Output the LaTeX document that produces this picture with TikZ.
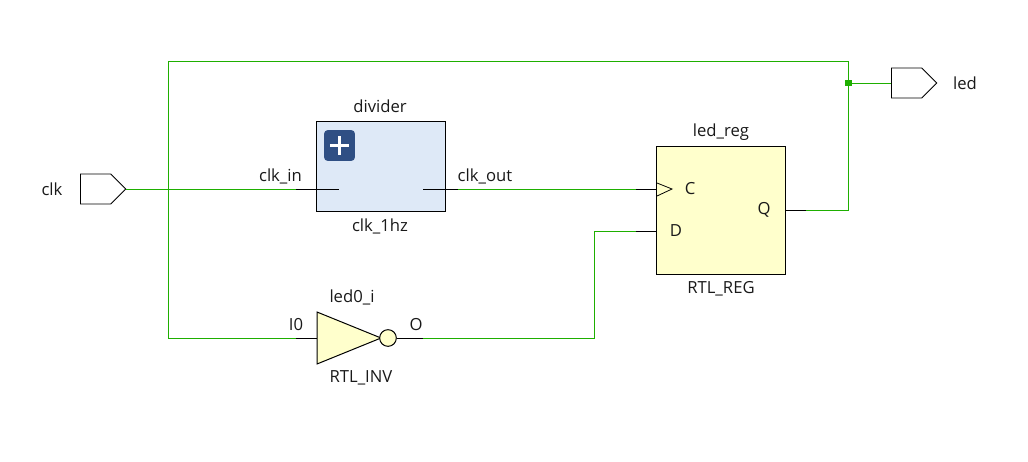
\documentclass[tikz,border=0pt]{standalone}
\usepackage{fontspec}
\setmainfont{Open Sans}
\usetikzlibrary{positioning, shapes.geometric, shapes.symbols}
\definecolor{netgreen}{RGB}{30,175,0}
\definecolor{hierblue}{RGB}{222,233,247}
\definecolor{primyellow}{RGB}{255,255,204}
\definecolor{plusblue}{RGB}{47,79,132}

\begin{document}
\begin{tikzpicture}
    [
        x=0.75pt, y=-0.75pt,
        font=\fontsize{12.5pt}{14pt}\selectfont,
        line width=0.75pt,
        node distance=2pt,
        port/.style  ={signal, signal to=east, signal pointer angle=90, draw=black, line width=0.6pt,
                        inner sep=0pt, minimum width=34pt, minimum height=22.5pt, anchor=west},
        hier/.style  ={rectangle, draw=black, fill=hierblue, inner sep=0pt,
                        minimum width=97pt, minimum height=67pt},
        prim/.style  ={rectangle, draw=black, fill=primyellow, inner sep=0pt,
                        minimum width=96.5pt, minimum height=96pt},
        invbody/.style ={isosceles triangle, isosceles triangle stretches, draw=black, fill=primyellow,
                        inner sep=0pt, minimum width=39pt, minimum height=48pt, anchor=lower side},
        bubble/.style ={circle, draw=black, fill=primyellow, inner sep=0pt, minimum size=12.5pt},
        plusbtn/.style ={rectangle, rounded corners=2.5pt, fill=plusblue, inner sep=0pt, minimum size=23pt},
        joint/.style ={rectangle, fill=netgreen, inner sep=0pt, minimum size=5.2pt},
        net/.style   ={draw=netgreen},
        stub/.style  ={draw=black},
        txt/.style   ={inner sep=0pt, text=black!90}
    ]

    \useasboundingbox (0,0) rectangle (1028,461);

    % blocks
    \node[port]     (clkport)   at (80,189)       {};
    \node[port]     (ledport)   at (891,83)       {};
    \node[hier]     (divider)   at (381,166.5)    {};
    \node[plusbtn]  (expand)    at (339.5,145.5)  {};
    \node[prim]     (ledreg)    at (721.3,210)    {};
    \node[invbody]  (inv)       at (316.5,338)    {};
    \node[bubble]   (invout)    at (388,338)      {};
    \node[joint]    (split)     at (848.5,83)     {};

    \draw[white, line width=2.4pt] ([xshift=-7pt]expand.center) -- ([xshift=7pt]expand.center);
    \draw[white, line width=2.4pt] ([yshift=-7pt]expand.center) -- ([yshift=7pt]expand.center);

    % clock mark
    \draw[line width=0.6pt, fill=primyellow] (657,183) -- (672,189) -- (657,196);

    % block names
    \node[txt]      (dividername)  at (380,106)   {divider};
    \node[txt]      (dividertype)  at (380,226)   {clk\_1hz};
    \node[txt]      (regname)      at (721,132)   {led\_reg};
    \node[txt]      (regtype)      at (721,289)   {RTL\_REG};
    \node[txt]      (invname)      at (352,297)   {led0\_i};
    \node[txt]      (invtype)      at (361,378)   {RTL\_INV};
    \node[txt]      (clkname)      at (52,189)    {clk};
    \node[txt]      (ledname)      at (965,83)    {led};

    % pin names
    \node[txt]      (pinin)     at (280.5,176)    {clk\_in};
    \node[txt]      (pinout)    at (485,176)      {clk\_out};
    \node[txt]      (pinc)      at (690,189)      {C};
    \node[txt]      (pind)      at (676,231)      {D};
    \node[txt]      (pinq)      at (764,210)      {Q};
    \node[txt]      (pini)      at (296,325)      {I0};
    \node[txt]      (pino)      at (416,325)      {O};

    % pin stubs
    \coordinate     (inA)       at (296,189);
    \coordinate     (inB)       at (339,189);
    \coordinate     (outA)      at (423,189);
    \coordinate     (outB)      at (458,189);
    \coordinate     (cA)        at (636,189);
    \coordinate     (dA)        at (636,231);
    \coordinate     (qA)        at (806,210);
    \coordinate     (iA)        at (296,338);
    \coordinate     (oA)        at (423,338);
    \coordinate     (bendA)     at (168.5,338);
    \coordinate     (bendB)     at (168.5,61.5);
    \coordinate     (bendC)     at (848.5,61.5);
    \coordinate     (bendD)     at (848.5,210);
    \coordinate     (bendE)     at (594,338);
    \coordinate     (bendF)     at (594,231);

    \draw[stub]     (inA) to (inB);
    \draw[stub]     (outA) to (outB);
    \draw[stub]     (cA) to (cA -| ledreg.west);
    \draw[stub]     (dA) to (dA -| ledreg.west);
    \draw[stub]     (ledreg.east |- qA) to (qA);
    \draw[stub]     (iA) to (iA -| inv.lower side);
    \draw[stub]     (invout.east) to (oA);

    \draw[net]      (clkport.east) to (inA);
    \draw[net]      (outB) to (cA);
    \draw[net]      (oA) -- (bendE) -- (bendF) -- (dA);
    \draw[net]      (qA) -- (bendD) -- (bendC) -- (bendB) -- (bendA) -- (iA);
    \draw[net]      (split) to (ledport.west);

\end{tikzpicture}
\end{document}
